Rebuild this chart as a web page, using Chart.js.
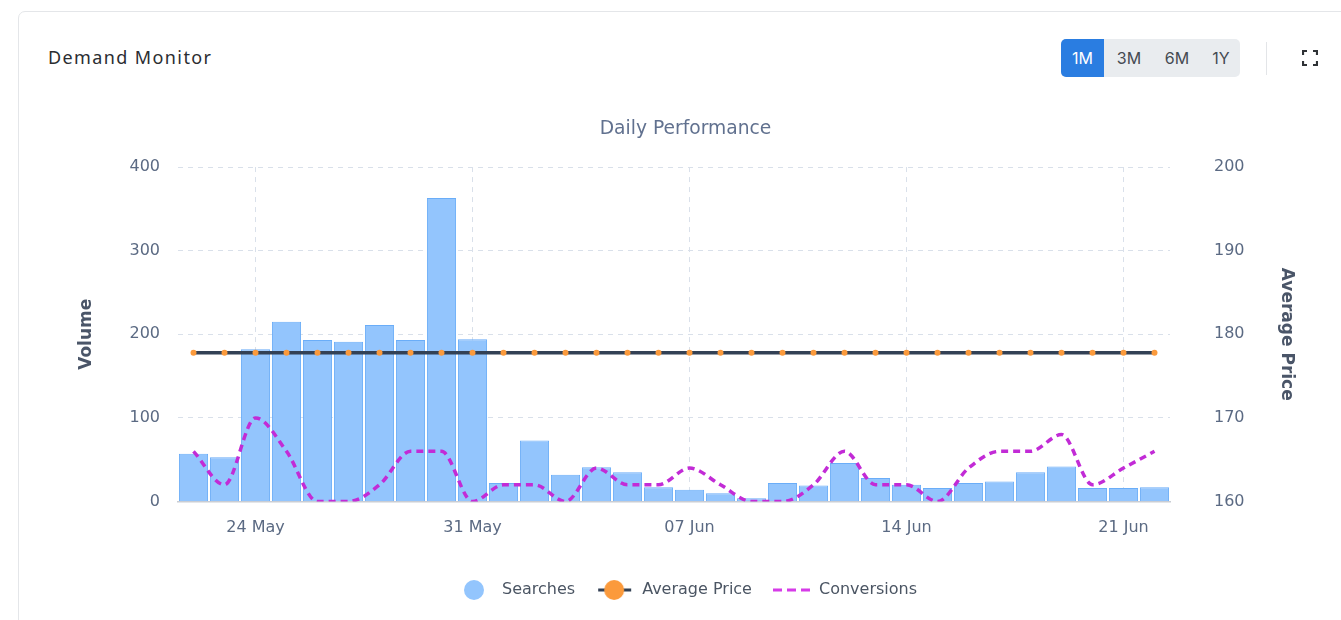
<!DOCTYPE html>
<html>
<head>
<meta charset="utf-8">
<title>Demand Monitor</title>
<script src="https://cdn.jsdelivr.net/npm/chart.js@4.4.1/dist/chart.umd.min.js"></script>
<style>
  html, body { margin:0; padding:0; width:1341px; height:620px; overflow:hidden; background:#fff; font-family:Inter, "Noto Sans", sans-serif; }
  .card { position:absolute; left:18px; top:11px; width:1345px; height:660px; border:1px solid #e4e6e9; border-radius:7px; box-sizing:border-box; }
  #hdr { position:absolute; left:48px; top:45px; font-family:"Noto Sans", sans-serif; font-size:18px; font-weight:400; color:#2b2d31; white-space:nowrap; line-height:24px; }
  .grp { position:absolute; left:1061px; top:39px; width:179px; height:38px; background:#e9ecef; border-radius:5px; }
  .act { position:absolute; left:1061px; top:39px; width:43px; height:38px; background:#2a7de1; border-radius:5px 0 0 5px; }
  .btn { position:absolute; top:39px; height:38px; line-height:38px; width:44px; text-align:center; font-family:Inter, sans-serif; font-size:16px; font-weight:400; color:#454a52; }
  .sep { position:absolute; left:1266px; top:42px; width:1px; height:33px; background:#e3e5e8; }
  .fs { position:absolute; left:1302px; top:50px; }
  #wrap { position:absolute; left:0; top:100px; width:1341px; height:540px; }
</style>
</head>
<body>
<div class="card"></div>
<div id="hdr">Demand Monitor</div>
<div class="grp"></div>
<div class="act"></div>
<div class="btn" style="left:1061px;width:43px;color:#fff;">1M</div>
<div class="btn" style="left:1107px;">3M</div>
<div class="btn" style="left:1155px;">6M</div>
<div class="btn" style="left:1199px;">1Y</div>
<div class="sep"></div>
<svg class="fs" width="16" height="16" viewBox="0 0 16 16">
  <path d="M1 5V1H5 M11 1H15V5 M15 11V15H11 M5 15H1V11" fill="none" stroke="#2f3236" stroke-width="2.2"/>
</svg>
<div id="wrap"><canvas id="c"></canvas></div>
<script>
// ---- data ----
const categories = ["22 May","23 May","24 May","25 May","26 May","27 May","28 May","29 May","30 May","31 May",
  "01 Jun","02 Jun","03 Jun","04 Jun","05 Jun","06 Jun","07 Jun","08 Jun","09 Jun","10 Jun","11 Jun",
  "12 Jun","13 Jun","14 Jun","15 Jun","16 Jun","17 Jun","18 Jun","19 Jun","20 Jun","21 Jun","22 Jun"];
const tickLabels = ["24 May","31 May","07 Jun","14 Jun","21 Jun"];
const searches = [57,53,182,215,193,191,211,193,363,194,
  22,73,32,41,35,17,14,10,4,22,19,46,28,20,16,22,24,35,42,16,16,17];
const averagePrice = [177.8,177.8,177.8,177.8,177.8,177.8,177.8,177.8,177.8,177.8,
  177.8,177.8,177.8,177.8,177.8,177.8,177.8,177.8,177.8,177.8,177.8,
  177.8,177.8,177.8,177.8,177.8,177.8,177.8,177.8,177.8,177.8,177.8];
const conversions = [166,162,170,166,160,160,162,166,166,160,
  162,162,160,164,162,162,164,162,160,160,162,166,162,162,160,164,166,166,168,162,164,166];
const volumeTicks = [0,100,200,300,400];
const priceTicks = [160,170,180,190,200];

// header title width fit
(function(){
  const t = document.getElementById('hdr');
  const w = t.getBoundingClientRect().width;
  t.style.letterSpacing = ((163 - w) / (t.textContent.length - 1)) + 'px';
})();

// legend icons
function icon(draw){ const c=document.createElement('canvas'); c.width=40; c.height=22; draw(c.getContext('2d')); return c; }
const icons = [
  icon(g=>{ g.fillStyle='#93c5fd'; g.beginPath(); g.arc(20,11,10,0,Math.PI*2); g.fill(); }),
  icon(g=>{ g.strokeStyle='#334155'; g.lineWidth=3; g.beginPath(); g.moveTo(4,11); g.lineTo(37,11); g.stroke();
            g.fillStyle='#fb9a3c'; g.beginPath(); g.arc(20,11,10,0,Math.PI*2); g.fill(); }),
  icon(g=>{ g.strokeStyle='#d63be8'; g.lineWidth=3; g.setLineDash([9,5]); g.beginPath(); g.moveTo(2,11); g.lineTo(39,11); g.stroke(); })
];

const FONT = 'DejaVu Sans';
const tickColor = '#5b6a83';
const gridColor = '#d9e0ea';

new Chart(document.getElementById('c'), {
  data: {
    labels: categories,
    datasets: [
      { type:'bar', label:'Searches', data:searches, yAxisID:'y', backgroundColor:'#93c5fd', borderColor:'#6aadf8',
        borderWidth:1, categoryPercentage:0.94, barPercentage:1, order:3 },
      { type:'line', label:'Average Price', data:averagePrice, yAxisID:'y1', borderColor:'#334155', borderWidth:3.5,
        pointRadius:3, pointHoverRadius:3, pointBackgroundColor:'#fb9a3c', pointBorderWidth:0, order:1 },
      { type:'line', label:'Conversions', data:conversions, yAxisID:'y1', borderColor:'#c22bd6', borderWidth:3.5,
        borderDash:[7,5], pointRadius:0, cubicInterpolationMode:'monotone', order:2 }
    ]
  },
  options: {
    responsive:true, maintainAspectRatio:false, animation:false,
    layout: { padding: { left:55, right:25, top:0, bottom:32 } },
    plugins: {
      title: { display:true, text:'Daily Performance', color:'#61718f',
        font:{ family:FONT, size:18.7, weight:'normal' }, padding:{ top:17.8, bottom:26.8 } },
      legend: { position:'bottom',
        labels: { usePointStyle:true, pointStyleWidth:40, padding:19, color:'#4b5563',
          font:{ family:FONT, size:16 },
          generateLabels: (chart) => chart.data.datasets.map((ds,i)=>({
            text: ds.label, pointStyle: icons[i], fillStyle:'rgba(0,0,0,0)', strokeStyle:'rgba(0,0,0,0)',
            lineWidth:0, hidden:!chart.isDatasetVisible(i), datasetIndex:i, fontColor:'#4b5563' })) } },
      tooltip: { enabled:false }
    },
    scales: {
      x: {
        grid: { color: (ctx) => tickLabels.includes(categories[ctx.index]) ? gridColor : 'rgba(0,0,0,0)',
                offset:false, drawTicks:false, lineWidth:1 },
        border: { display:true, color:'#c9cdd4', width:1.5, dash:[5,5] },
        ticks: { autoSkip:false, maxRotation:0, padding:17, color:tickColor, font:{ family:FONT, size:16 },
                 callback: (v,i) => tickLabels.includes(categories[i]) ? categories[i] : '' },
        afterFit: (s) => { s.height = 61.5; }
      },
      y: {
        position:'left', min:volumeTicks[0], max:volumeTicks[volumeTicks.length-1],
        afterBuildTicks: (s) => { s.ticks = volumeTicks.map(v=>({value:v})); },
        ticks: { padding:18, color:tickColor, font:{ family:FONT, size:16 } },
        grid: { color:gridColor, drawTicks:false },
        border: { display:false, dash:[5,5] },
        title: { display:true, text:'Volume', color:'#4a5568', font:{ family:FONT, size:17, weight:'bold' }, padding:{ top:21, bottom:0 } },
        afterFit: (s) => { s.width = 123; }
      },
      y1: {
        position:'right', min:priceTicks[0], max:priceTicks[priceTicks.length-1],
        afterBuildTicks: (s) => { s.ticks = priceTicks.map(v=>({value:v})); },
        ticks: { padding:44, color:tickColor, font:{ family:FONT, size:16 } },
        grid: { display:false, drawTicks:false, drawOnChartArea:false },
        border: { display:false },
        title: { display:true, text:'Average Price', color:'#4a5568', font:{ family:FONT, size:17, weight:'bold' }, padding:{ top:19, bottom:0 } },
        afterFit: (s) => { s.width = 146; }
      }
    }
  }
});
</script>
</body>
</html>
